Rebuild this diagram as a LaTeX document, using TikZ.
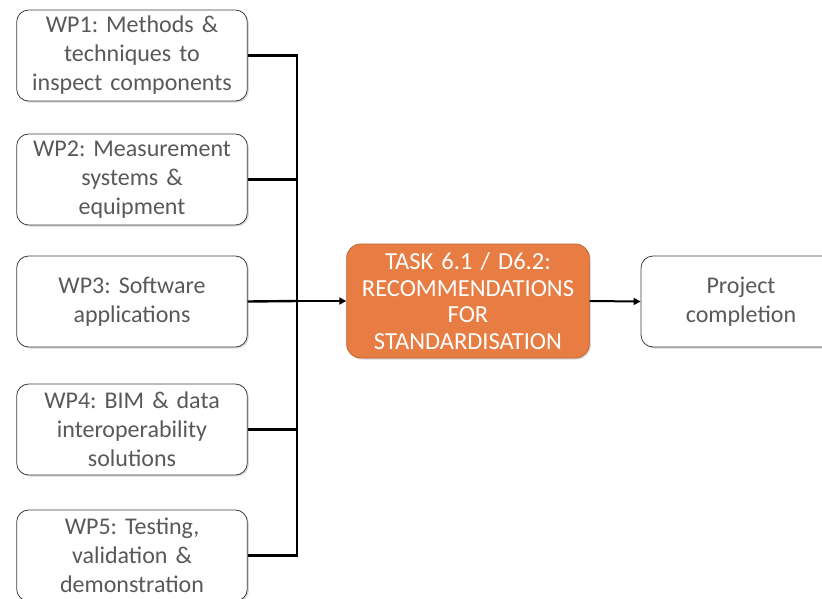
\documentclass[tikz,border=0pt]{standalone}
\usepackage{fontspec}
\setmainfont{Carlito}
\usetikzlibrary{shadows,arrows.meta}
\definecolor{txtgray}{HTML}{595959}
\definecolor{taskorange}{HTML}{E87D43}
\definecolor{taskborder}{HTML}{C0622E}
\tikzset{
  wpbox/.style={draw=black!75, line width=0.8pt, fill=white, rounded corners=12pt,
    minimum width=228pt, text width=224pt, align=center, text=txtgray,
    font=\frenchspacing\fontsize{24}{29}\selectfont, drop shadow={shadow xshift=1.5pt, shadow yshift=-1.5pt, fill=black!25, opacity=0.6}},
  taskbox/.style={draw=taskborder, line width=0.8pt, fill=taskorange, rounded corners=14pt,
    minimum width=240pt, minimum height=114pt, text width=236pt, align=center, text=white,
    font=\frenchspacing\fontsize{24.5}{26.5}\selectfont, drop shadow={shadow xshift=1.5pt, shadow yshift=-1.5pt, fill=black!25, opacity=0.6}},
  link/.style={line width=2.4pt, draw=black},
  arr/.style={line width=2.4pt, draw=black, -{Triangle[length=7pt,width=7pt]}},
  arrthin/.style={line width=2pt, draw=black, -{Triangle[length=7pt,width=7pt]}},
}
\begin{document}
\begin{tikzpicture}[x=1pt,y=-1pt]
\useasboundingbox (0,0) rectangle (822,598);
\fill[white] (0,0) rectangle (822,598);
\node[wpbox, minimum height=91pt] (wp1) at (132,55.5) {WP1: Methods \&\\techniques to\\inspect components};
\node[wpbox, minimum height=91pt] (wp2) at (132,179.5) {WP2: Measurement\\systems \&\\equipment};
\node[wpbox, minimum height=91pt] (wp3) at (132,301.5) {WP3: Software\\applications};
\node[wpbox, minimum height=91pt] (wp4) at (132,429.5) {WP4: BIM \& data\\interoperability\\solutions};
\node[wpbox, minimum height=91pt] (wp5) at (132,555.5) {WP5: Testing,\\validation \&\\demonstration};
\node[taskbox] (task) at (468,301) {TASK 6.1 / D6.2:\\RECOMMENDATIONS\\FOR\\STANDARDISATION};
\node[wpbox, minimum width=200pt, text width=190pt, minimum height=91pt] (proj) at (741,301.5) {Project\\completion};
\coordinate (bus) at (297,301);
\draw[link] (wp1.east) -| (bus);
\draw[link] (wp5.east) -| (bus);
\draw[link] (wp2.east) -- (wp2.east -| bus);
\draw[link] (wp3.east) -- (bus);
\draw[link] (wp4.east) -- (wp4.east -| bus);
\draw[arr] (bus) -- (task.west);
\draw[arrthin] (task.east) -- (proj.west);
\end{tikzpicture}
\end{document}
